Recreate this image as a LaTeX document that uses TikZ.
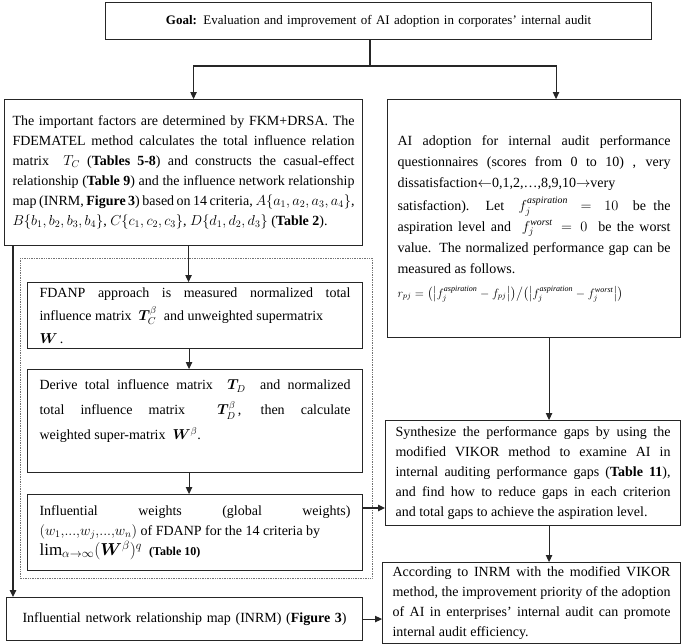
\documentclass[tikz,border=0pt]{standalone}
\usepackage{amsmath,bm}
\usepackage{fontspec}
\setmainfont{Liberation Serif}
\usetikzlibrary{arrows.meta}

\begin{document}
\begin{tikzpicture}[
            x=1pt, y=1pt,
            font=\fontsize{14}{20}\selectfont,
            stage/.style={
                draw=black!85, line width=1.1pt, anchor=north west,
                align=justify, inner xsep=#1, inner ysep=4pt
            },
            stage/.default=10pt,
            group/.style={draw=black!55, densely dotted, line width=0.7pt},
            link/.style={black!85, line width=1.1pt},
            arr/.style={link, -{Triangle[length=7pt,width=6.5pt]}}
        ]
        \useasboundingbox (0,0) rectangle (685,-643);

        % --- Top ---
        \node[stage=8pt, align=center, text width=530pt, minimum height=37pt,
              font=\fontsize{13}{16}\selectfont] (goal) at (105,-2)
        {\textbf{Goal:} Evaluation and improvement of AI adoption in corporates' internal audit};

        % --- Left column ---
        \node[stage=8pt, text width=342pt, minimum height=146pt] (fact) at (4,-99)
        {The important factors are determined by FKM+DRSA. The\linebreak
         FDEMATEL method calculates the total influence relation\linebreak
         matrix \ $T_C$ (\textbf{Tables 5-8}) and constructs the casual-effect\linebreak
         relationship (\textbf{Table 9}) and the influence network relationship\linebreak
         map (INRM, \textbf{Figure 3}) based on 14 criteria, $A\{a_1,a_2,a_3,a_4\}$,\\
         $B\{b_1,b_2,b_3,b_4\}$, $C\{c_1,c_2,c_3\}$, $D\{d_1,d_2,d_3\}$ (\textbf{Table 2}).};

        \draw[group] (20,-258) rectangle (372,-578);

        \node[stage=12pt, text width=311pt, minimum height=66pt,
              font=\fontsize{14}{23}\selectfont] (fdanp) at (27,-282)
        {FDANP approach is measured normalized total\linebreak
         influence matrix \ $\bm{T}_C^{\beta}$ \ and unweighted supermatrix\\
         $\bm{W}$\,.};
        \node[stage=12pt, text width=311pt, minimum height=103pt,
              font=\fontsize{14}{25}\selectfont] (derive) at (27,-369)
        {Derive total influence matrix \ $\bm{T}_D$ \ and normalized\linebreak
         total influence matrix \ $\bm{T}_D^{\beta}$\,, then calculate\linebreak
         weighted super-matrix \ $\bm{W}^{\beta}$.\rule[-22pt]{0pt}{0pt}};
        \node[stage=12pt, text width=311pt, minimum height=76pt] (weights) at (27,-494)
        {Influential weights (global weights)\linebreak
         $(w_1,\!...,\!w_j,\!...,\!w_n)$ of FDANP for the 14 criteria by\\
         {\fontsize{17}{20}\selectfont$\lim\nolimits_{\alpha\to\infty}(\bm{W}^{\beta})^q$} \ {\fontsize{12}{14}\selectfont\textbf{(Table 10)}}};

        \node[stage=8pt, align=center, text width=340pt, minimum height=43pt] (inrm) at (6,-597)
        {Influential network relationship map (INRM) (\textbf{Figure 3})};

        % --- Right column ---
        \node[stage, text width=273pt, minimum height=238pt,
              font=\fontsize{14}{21}\selectfont] (quest) at (387,-99)
        {AI adoption for internal audit performance\linebreak
         questionnaires (scores from 0 to 10) , very\linebreak
         dissatisfaction$\leftarrow$0,1,2,\ldots,8,9,10$\rightarrow$very\\[2pt]
         satisfaction). Let \ $f_j^{\mathit{aspiration}}=10$ \ be the\linebreak
         aspiration level and \ $f_j^{\mathit{worst}}=0$ \ be the worst\linebreak
         value. The normalized performance gap can be\linebreak
         measured as follows.\\[3pt]
         {\fontsize{11.5}{15}\selectfont $r_{pj}=\bigl(\bigl|f_j^{\mathit{aspiration}}-f_{pj}\bigr|\bigr)\big/\bigl(\bigl|f_j^{\mathit{aspiration}}-f_j^{\mathit{worst}}\bigr|\bigr)$}};

        \node[stage, text width=275pt, minimum height=105pt] (synth) at (385,-420)
        {Synthesize the performance gaps by using the\linebreak
         modified VIKOR method to examine AI in\linebreak
         internal auditing performance gaps (\textbf{Table 11}),\linebreak
         and find how to reduce gaps in each criterion\linebreak
         and total gaps to achieve the aspiration level.};

        \node[stage, text width=278pt, minimum height=78pt] (final) at (382,-562)
        {According to INRM with the modified VIKOR\linebreak
         method, the improvement priority of the adoption\linebreak
         of AI in enterprises' internal audit can promote\linebreak
         internal audit efficiency.};

        % --- Connectors ---
        \coordinate (fork) at (370,-66);
        \draw[link] (goal.south -| fork) -- (fork);
        \draw[arr] (fork) -| ([xshift=10pt]fact.north);
        \draw[arr] (fork) -| ([xshift=22pt]quest.north);

        \draw[arr] ([xshift=5pt]fact.south) -- ([xshift=5pt]fact.south |- fdanp.north);
        \draw[arr] ([xshift=-6pt]fdanp.south) -- ([xshift=-6pt]fdanp.south |- derive.north);
        \draw[arr] ([xshift=-6pt]derive.south) -- ([xshift=-6pt]derive.south |- weights.north);
        \draw[arr] ([xshift=9pt]fact.south west) -- ([xshift=9pt]fact.south west |- inrm.north);

        \draw[arr] ([yshift=-14pt]weights.north east) -- ([yshift=-14pt]weights.north east -| synth.west);
        \draw[arr] (inrm.east) -- (inrm.east -| final.west);

        \draw[arr] ([xshift=15pt]quest.south) -- ([xshift=15pt]quest.south |- synth.north);
        \draw[arr] ([xshift=16pt]synth.south) -- ([xshift=16pt]synth.south |- final.north);

    \end{tikzpicture}
\end{document}
